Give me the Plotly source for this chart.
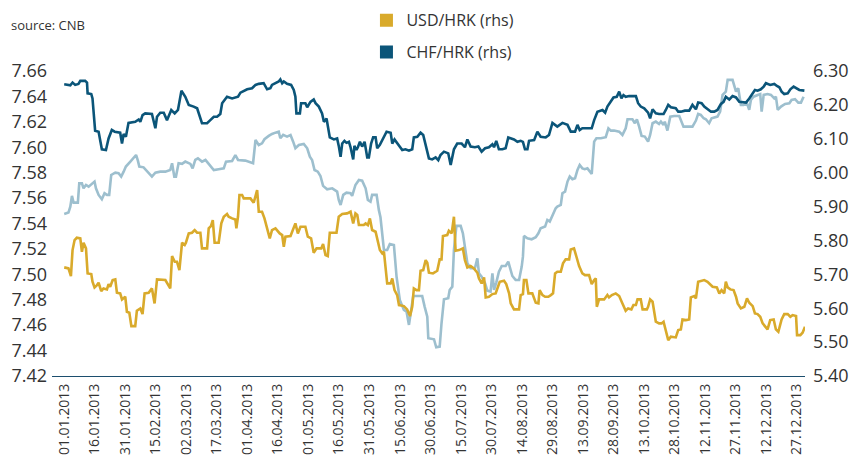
import pandas as pd
import plotly.graph_objects as go

# ---------------- data (day of year 2013, 0 = 01.01.2013) ----------------
eur_day = [0, 2.1, 3.0, 3.8, 4.6, 6.7, 7.4, 8.7, 9.5, 10.7, 12.0, 13.6, 14.9, 15.6, 16.9, 18.5, 19.8, 21.0, 22.1, 23.1,
           25.1, 26.7, 28.0, 29.2, 30.3, 32.5, 34.1, 35.3, 36.2, 36.9, 39.0, 40.7, 43.1, 44.8, 47.2, 49.7, 52.1, 53.0,
           54.1, 54.9, 56.2, 57.9, 59.5, 62.0, 63.1, 64.4, 65.7, 67.7, 69.4, 71.0, 73.5, 75.9, 78.4, 79.5, 82.5, 84.1,
           85.4, 89.0, 92.8, 94.0, 95.6, 97.2, 98.4, 100.5, 102.1, 103.8, 105.4, 106.2, 107.6, 109.5, 111.2, 112.5,
           113.6, 115.3, 117.7, 119.4, 120.7, 121.8, 123.0, 124.6, 125.9, 127.2, 129.2, 131.7, 134.1, 134.9, 135.8,
           137.1, 138.7, 140.7, 141.5, 143.1, 144.8, 146.4, 148.1, 149.2, 150.5, 151.3, 153.5, 154.6, 155.4, 157.1,
           158.7, 160.0, 162.0, 163.3, 164.9, 166.9, 168.2, 169.4, 170.2, 171.5, 173.5, 175.9, 177.1, 178.4, 178.9,
           181.7, 182.8, 184.5, 185.4, 186.6, 188.7, 189.4, 190.7, 191.5, 192.7, 194.8, 195.9, 196.9, 198.1, 199.7,
           201.8, 203.0, 203.8, 205.1, 206.8, 207.9, 209.5, 210.4, 211.2, 212.3, 213.6, 215.0, 216.9, 218.2, 218.9,
           220.2, 221.8, 223.5, 224.8, 225.4, 225.9, 227.6, 229.7, 231.7, 233.0, 234.1, 236.3, 237.4, 238.6, 239.9,
           241.5, 242.3, 244.0, 244.8, 246.1, 247.3, 248.4, 249.7, 251.0, 252.2, 253.3, 254.6, 255.8, 257.1, 259.2,
           260.4, 261.5, 263.7, 266.1, 267.4, 268.6, 270.2, 272.7, 274.3, 275.9, 276.8, 279.2, 280.4, 281.4, 282.5,
           283.7, 285.3, 286.9, 287.9, 289.1, 290.7, 292.3, 293.2, 294.5, 295.1, 296.4, 297.8, 299.7, 302.2, 303.3,
           304.3, 306.3, 308.7, 310.4, 311.5, 312.8, 314.2, 315.3, 316.9, 318.1, 319.4, 321.0, 322.3, 323.5, 325.1,
           326.0, 328.4, 329.2, 330.1, 331.2, 331.7, 332.5, 333.8, 335.5, 336.6, 337.4, 338.7, 340.4, 342.0, 342.7,
           343.7, 345.6, 347.3, 348.9, 349.7, 350.6, 352.2, 354.2, 356.3, 357.4, 359.1, 360.7, 362.0, 363.3]
eur_val = [7.5475, 7.5486, 7.5533, 7.5617, 7.5564, 7.5564, 7.5716, 7.5716, 7.5677, 7.5703, 7.5690, 7.5716, 7.5730,
           7.5677, 7.5625, 7.5591, 7.5638, 7.5625, 7.5625, 7.5782, 7.5800, 7.5795, 7.5769, 7.5808, 7.5848, 7.5887,
           7.5913, 7.5939, 7.5895, 7.5848, 7.5842, 7.5808, 7.5769, 7.5800, 7.5808, 7.5808, 7.5821, 7.5874, 7.5769,
           7.5769, 7.5874, 7.5869, 7.5887, 7.5869, 7.5834, 7.5900, 7.5913, 7.5887, 7.5900, 7.5869, 7.5821, 7.5827,
           7.5834, 7.5887, 7.5892, 7.5939, 7.5900, 7.5895, 7.5874, 7.6057, 7.6018, 7.6031, 7.6063, 7.6089, 7.6105,
           7.6115, 7.6123, 7.6071, 7.6097, 7.6084, 7.6097, 7.6044, 7.5992, 7.6018, 7.6026, 7.5992, 7.5926, 7.5900,
           7.5821, 7.5808, 7.5774, 7.5696, 7.5669, 7.5677, 7.5651, 7.5585, 7.5546, 7.5625, 7.5643, 7.5638, 7.5617,
           7.5703, 7.5743, 7.5737, 7.5677, 7.5585, 7.5572, 7.5625, 7.5625, 7.5507, 7.5449, 7.5192, 7.5192, 7.5239,
           7.5231, 7.4982, 7.4798, 7.4720, 7.4707, 7.4602, 7.4694, 7.4830, 7.4830, 7.4830, 7.4746, 7.4667, 7.4497,
           7.4489, 7.4426, 7.4431, 7.4615, 7.4804, 7.4812, 7.4877, 7.4903, 7.5192, 7.5381, 7.5381, 7.5323, 7.5205,
           7.5087, 7.5048, 7.5048, 7.5126, 7.5008, 7.4982, 7.4930, 7.4872, 7.4864, 7.5008, 7.4877, 7.4935, 7.5021,
           7.5066, 7.5066, 7.5100, 7.5056, 7.4987, 7.4956, 7.4956, 7.5061, 7.5139, 7.5302, 7.5284, 7.5276, 7.5292,
           7.5323, 7.5362, 7.5376, 7.5428, 7.5415, 7.5467, 7.5520, 7.5533, 7.5546, 7.5638, 7.5651, 7.5730, 7.5769,
           7.5748, 7.5756, 7.5821, 7.5861, 7.5834, 7.5827, 7.5834, 7.5790, 7.6044, 7.6071, 7.6071, 7.6079, 7.6149,
           7.6131, 7.6131, 7.6123, 7.6097, 7.6149, 7.6220, 7.6220, 7.6189, 7.6220, 7.6162, 7.6089, 7.6084, 7.6044,
           7.6097, 7.6189, 7.6202, 7.6183, 7.6202, 7.6176, 7.6202, 7.6131, 7.6241, 7.6246, 7.6246, 7.6202, 7.6162,
           7.6162, 7.6162, 7.6210, 7.6262, 7.6254, 7.6228, 7.6220, 7.6189, 7.6228, 7.6236, 7.6241, 7.6280, 7.6412,
           7.6438, 7.6530, 7.6530, 7.6482, 7.6438, 7.6464, 7.6398, 7.6333, 7.6333, 7.6346, 7.6294, 7.6372, 7.6398,
           7.6412, 7.6419, 7.6280, 7.6412, 7.6419, 7.6412, 7.6385, 7.6398, 7.6294, 7.6320, 7.6341, 7.6346, 7.6372,
           7.6378, 7.6351, 7.6351, 7.6398]

usd_day = [0, 2.1, 3.3, 4.1, 5.1, 6.2, 7.9, 8.7, 9.5, 10.7, 11.5, 13.3, 13.9, 14.9, 16.1, 16.9, 18.2, 19.3, 21.0, 21.8,
           22.6, 23.8, 25.1, 25.9, 27.5, 28.4, 30.0, 30.8, 32.0, 33.0, 34.9, 35.7, 37.4, 38.5, 39.5, 41.5, 43.1, 44.4,
           45.6, 48.0, 49.7, 52.1, 53.0, 54.3, 55.4, 56.6, 57.9, 59.2, 59.8, 61.2, 62.8, 64.1, 65.3, 66.9, 67.7, 70.2,
           71.0, 72.1, 73.0, 73.9, 75.9, 77.2, 78.4, 80.0, 80.8, 82.5, 84.1, 84.6, 85.4, 86.1, 87.4, 88.2, 91.5, 93.1,
           94.8, 95.6, 97.2, 98.4, 99.7, 101.0, 102.1, 103.8, 105.9, 107.1, 107.9, 108.7, 111.2, 112.5, 113.6, 114.8,
           116.1, 118.5, 119.7, 121.3, 122.6, 124.0, 126.3, 127.2, 128.4, 129.5, 130.5, 132.5, 133.8, 134.9, 136.6,
           139.0, 140.7, 142.0, 143.1, 144.0, 144.8, 147.2, 148.1, 149.2, 150.2, 151.3, 153.0, 155.1, 156.3, 157.1,
           158.7, 160.4, 161.2, 162.3, 163.6, 164.5, 166.9, 168.5, 169.9, 171.0, 171.8, 173.1, 174.3, 175.1, 176.4,
           177.6, 178.4, 179.2, 181.2, 183.3, 184.5, 185.4, 186.1, 188.2, 189.0, 190.4, 191.5, 192.3, 194.0, 195.9,
           196.9, 198.1, 199.7, 201.3, 203.0, 203.8, 205.1, 206.3, 207.1, 208.7, 210.4, 212.0, 212.8, 214.0, 216.1,
           217.2, 218.6, 219.4, 221.0, 223.5, 224.3, 225.4, 225.9, 227.1, 228.1, 230.0, 231.7, 233.0, 233.6, 235.0,
           236.3, 237.9, 239.1, 240.2, 241.2, 242.3, 244.0, 245.1, 246.4, 248.1, 248.9, 250.5, 251.7, 253.0, 254.6,
           255.9, 257.9, 259.2, 260.4, 261.2, 261.7, 262.8, 265.3, 266.9, 267.7, 269.1, 271.0, 272.7, 274.3, 275.9,
           277.1, 278.7, 279.7, 280.9, 281.7, 283.3, 284.2, 286.3, 286.9, 287.9, 289.1, 289.9, 290.7, 292.3, 293.5,
           294.5, 295.6, 296.8, 298.1, 300.5, 301.7, 303.0, 303.8, 305.5, 307.1, 307.9, 309.6, 310.4, 311.5, 312.8,
           314.5, 316.1, 317.4, 318.6, 320.7, 321.9, 323.0, 324.3, 325.1, 326.0, 327.3, 328.9, 330.1, 330.9, 332.5,
           334.2, 335.5, 336.6, 338.3, 339.4, 340.7, 342.0, 343.2, 344.8, 345.6, 346.9, 348.6, 349.7, 350.9, 352.5,
           353.8, 355.5, 356.8, 357.9, 359.6, 360.1, 361.7, 362.8, 364.0]
usd_val = [5.7205, 5.7175, 5.6949, 5.7716, 5.8011, 5.8080, 5.8061, 5.7667, 5.7933, 5.7765, 5.7027, 5.7008, 5.6781,
           5.6614, 5.6683, 5.6752, 5.6506, 5.6585, 5.6555, 5.6713, 5.6634, 5.6831, 5.6850, 5.6457, 5.6437, 5.6260,
           5.6339, 5.5896, 5.5866, 5.5473, 5.5473, 5.5925, 5.5994, 5.5827, 5.6437, 5.6457, 5.6585, 5.6142, 5.6850,
           5.6850, 5.6831, 5.6585, 5.7539, 5.7372, 5.7372, 5.7126, 5.7933, 5.7864, 5.7933, 5.8208, 5.8228, 5.8307,
           5.8228, 5.8228, 5.7765, 5.7765, 5.8356, 5.8425, 5.8602, 5.7933, 5.7933, 5.8503, 5.8700, 5.8779, 5.8700,
           5.8651, 5.8621, 5.8356, 5.8700, 5.9340, 5.9340, 5.9241, 5.9241, 5.9113, 5.9487, 5.8848, 5.8848, 5.8651,
           5.8356, 5.8061, 5.8307, 5.8356, 5.8208, 5.8159, 5.7815, 5.8110, 5.8130, 5.8307, 5.8503, 5.8208, 5.8405,
           5.8405, 5.8110, 5.8061, 5.7637, 5.7765, 5.7765, 5.7893, 5.7569, 5.7539, 5.8228, 5.8228, 5.8228, 5.8700,
           5.8779, 5.8799, 5.8848, 5.8503, 5.8799, 5.8750, 5.8454, 5.8454, 5.8503, 5.8454, 5.8651, 5.8307, 5.8257,
           5.7716, 5.7618, 5.7667, 5.6732, 5.6732, 5.6880, 5.6535, 5.6388, 5.6093, 5.6063, 5.5965, 5.5768, 5.6043,
           5.6585, 5.6535, 5.6535, 5.7106, 5.7126, 5.7421, 5.7342, 5.7047, 5.7027, 5.7106, 5.7441, 5.7441, 5.8130,
           5.8159, 5.8287, 5.8208, 5.8700, 5.7697, 5.7716, 5.7765, 5.7421, 5.7204, 5.7244, 5.7175, 5.7047, 5.6880,
           5.6732, 5.6909, 5.6319, 5.6339, 5.6417, 5.6437, 5.6585, 5.6781, 5.6811, 5.6713, 5.6437, 5.6142, 5.5965,
           5.5965, 5.6388, 5.6417, 5.6831, 5.6831, 5.6437, 5.6437, 5.6162, 5.6142, 5.6535, 5.6388, 5.6339, 5.6339,
           5.6388, 5.6437, 5.7027, 5.7077, 5.7077, 5.7323, 5.7441, 5.7441, 5.7736, 5.7765, 5.7519, 5.7244, 5.7027,
           5.6978, 5.6978, 5.6713, 5.6831, 5.6880, 5.6043, 5.6260, 5.6260, 5.6388, 5.6319, 5.6388, 5.6437, 5.6358,
           5.6142, 5.5925, 5.5994, 5.5965, 5.6093, 5.6093, 5.6260, 5.6260, 5.5965, 5.5965, 5.6043, 5.6260, 5.6191,
           5.5925, 5.5601, 5.5552, 5.5552, 5.5601, 5.5305, 5.5059, 5.5158, 5.5138, 5.5355, 5.5374, 5.5670, 5.5650,
           5.5670, 5.6319, 5.6358, 5.6290, 5.6781, 5.6811, 5.6831, 5.6781, 5.6713, 5.6634, 5.6614, 5.6437, 5.6535,
           5.6437, 5.6781, 5.6614, 5.6555, 5.6535, 5.6339, 5.6142, 5.5994, 5.6043, 5.6290, 5.6162, 5.6063, 5.5847,
           5.5827, 5.5748, 5.5552, 5.5453, 5.5374, 5.5650, 5.5670, 5.5374, 5.5305, 5.5670, 5.5827, 5.5827, 5.5748,
           5.5797, 5.5768, 5.5207, 5.5207, 5.5276, 5.5453]

chf_day = [0, 3.0, 4.1, 5.4, 7.0, 7.9, 10.3, 11.2, 11.5, 13.3, 13.9, 15.2, 16.9, 18.5, 20.5, 21.8, 23.4, 24.8, 27.5,
           28.4, 29.2, 30.3, 31.6, 34.9, 36.6, 37.4, 38.5, 39.8, 43.1, 44.8, 45.6, 47.2, 48.9, 50.5, 52.6, 54.3, 55.9,
           57.6, 59.5, 61.2, 63.6, 65.3, 67.7, 70.2, 71.8, 73.5, 75.1, 76.7, 77.6, 80.0, 82.5, 85.4, 86.6, 88.2, 89.9,
           92.3, 94.0, 95.6, 98.0, 99.7, 101.3, 102.1, 103.8, 105.4, 106.2, 107.1, 107.9, 109.5, 111.5, 112.8, 113.6,
           114.1, 115.8, 116.4, 118.5, 119.4, 121.0, 122.6, 123.5, 125.1, 126.7, 127.6, 128.9, 129.5, 130.5, 132.5,
           134.1, 134.9, 135.8, 136.6, 137.7, 138.7, 139.9, 140.7, 142.0, 142.6, 143.6, 144.3, 145.3, 146.4, 147.6,
           148.9, 149.7, 150.8, 151.8, 153.0, 153.8, 155.1, 156.3, 157.1, 158.4, 160.4, 161.2, 162.3, 163.6, 164.9,
           166.1, 167.7, 169.4, 171.0, 171.8, 173.5, 175.1, 176.4, 178.4, 179.2, 180.8, 182.5, 183.8, 184.9, 186.6,
           188.7, 189.9, 191.5, 193.1, 195.3, 196.9, 198.1, 199.7, 201.8, 203.5, 205.1, 206.8, 208.7, 210.4, 211.2,
           212.3, 213.6, 215.3, 216.9, 218.2, 219.9, 221.0, 222.7, 224.3, 225.4, 226.4, 227.6, 228.4, 230.9, 232.5,
           234.1, 236.6, 238.2, 239.9, 242.3, 244.8, 247.3, 248.9, 251.0, 252.2, 253.3, 254.6, 257.1, 259.2, 260.4,
           262.0, 264.5, 265.8, 266.9, 268.6, 269.9, 271.5, 272.7, 273.8, 274.8, 275.9, 277.6, 280.9, 282.0, 283.3,
           285.0, 286.9, 287.9, 289.1, 290.7, 292.3, 294.5, 295.6, 296.8, 298.1, 300.5, 301.7, 303.0, 305.0, 307.1,
           308.7, 310.4, 311.5, 313.2, 314.5, 316.1, 317.8, 319.4, 321.0, 322.7, 324.0, 325.1, 326.8, 328.4, 330.1,
           331.7, 333.3, 335.0, 336.6, 338.3, 339.4, 340.7, 342.3, 343.7, 344.8, 346.9, 348.9, 350.2, 351.4, 352.5,
           353.8, 355.5, 356.8, 358.4, 360.1, 361.2, 363.7]
chf_val = [6.261, 6.258, 6.266, 6.259, 6.262, 6.271, 6.271, 6.266, 6.234, 6.232, 6.219, 6.124, 6.121, 6.069, 6.067,
           6.101, 6.126, 6.121, 6.118, 6.086, 6.114, 6.106, 6.147, 6.150, 6.157, 6.150, 6.170, 6.175, 6.173, 6.131,
           6.165, 6.177, 6.177, 6.155, 6.185, 6.175, 6.185, 6.242, 6.224, 6.200, 6.195, 6.190, 6.146, 6.146, 6.155,
           6.165, 6.165, 6.173, 6.205, 6.224, 6.219, 6.224, 6.236, 6.242, 6.246, 6.249, 6.259, 6.262, 6.264, 6.246,
           6.249, 6.259, 6.264, 6.269, 6.275, 6.264, 6.269, 6.262, 6.259, 6.244, 6.224, 6.175, 6.175, 6.205, 6.205,
           6.193, 6.209, 6.216, 6.205, 6.195, 6.175, 6.150, 6.160, 6.141, 6.104, 6.098, 6.101, 6.079, 6.047, 6.086,
           6.094, 6.088, 6.091, 6.075, 6.039, 6.079, 6.067, 6.075, 6.091, 6.077, 6.091, 6.045, 6.045, 6.086, 6.104,
           6.104, 6.072, 6.082, 6.096, 6.106, 6.121, 6.118, 6.086, 6.098, 6.086, 6.075, 6.067, 6.069, 6.065, 6.069,
           6.104, 6.106, 6.118, 6.111, 6.067, 6.042, 6.039, 6.045, 6.037, 6.052, 6.062, 6.057, 6.023, 6.069, 6.086,
           6.086, 6.075, 6.098, 6.077, 6.075, 6.077, 6.062, 6.072, 6.075, 6.084, 6.075, 6.094, 6.069, 6.069, 6.072,
           6.104, 6.101, 6.098, 6.091, 6.094, 6.091, 6.069, 6.069, 6.094, 6.096, 6.121, 6.106, 6.104, 6.111, 6.147,
           6.136, 6.147, 6.141, 6.121, 6.121, 6.141, 6.126, 6.131, 6.131, 6.131, 6.155, 6.180, 6.185, 6.177, 6.195,
           6.209, 6.222, 6.224, 6.239, 6.219, 6.229, 6.224, 6.226, 6.226, 6.205, 6.195, 6.190, 6.177, 6.160, 6.187,
           6.175, 6.173, 6.173, 6.185, 6.200, 6.193, 6.190, 6.180, 6.180, 6.183, 6.183, 6.200, 6.187, 6.207, 6.205,
           6.195, 6.187, 6.180, 6.180, 6.185, 6.203, 6.209, 6.224, 6.216, 6.226, 6.222, 6.209, 6.207, 6.207, 6.219,
           6.234, 6.244, 6.242, 6.246, 6.254, 6.264, 6.259, 6.262, 6.256, 6.252, 6.239, 6.232, 6.234, 6.246, 6.254,
           6.249, 6.244, 6.242]

legend_labels = ["USD/HRK (rhs)", "CHF/HRK (rhs)"]
source_text = "source: CNB"

# ---------------- styling ----------------
C_EUR = "#9DBFCE"
C_USD = "#D9AA2B"
C_CHF = "#0B5579"
AXIS_C = "#1C4E6E"
TXT = "#333333"
FONT = "Open Sans"

base = pd.Timestamp("2013-01-01")


def to_dates(days):
    return base + pd.to_timedelta(days, unit="D")


fig = go.Figure()
fig.add_trace(go.Scatter(x=to_dates(eur_day), y=eur_val, mode="lines", yaxis="y",
                         line=dict(color=C_EUR, width=2.6), showlegend=False, name="EUR/HRK"))
fig.add_trace(go.Scatter(x=to_dates(usd_day), y=usd_val, mode="lines", yaxis="y2",
                         line=dict(color=C_USD, width=2.6), showlegend=False, name=legend_labels[0]))
fig.add_trace(go.Scatter(x=to_dates(chf_day), y=chf_val, mode="lines", yaxis="y2",
                         line=dict(color=C_CHF, width=2.6), showlegend=False, name=legend_labels[1]))
# legend entries with square symbols
for lbl, col, grp in [(legend_labels[0], C_USD, "a"), (legend_labels[1], C_CHF, "b")]:
    fig.add_trace(go.Scatter(x=[None], y=[None], mode="markers", yaxis="y2", name=lbl, legendgroup=grp,
                             marker=dict(symbol="square", size=13, color=col), showlegend=True))

# the page adds an 8px body margin, so the figure is 8px smaller than the window
fig.update_layout(
    width=860, height=458,
    margin=dict(l=44, r=63, t=63, b=90, autoexpand=False),
    paper_bgcolor="white", plot_bgcolor="white",
    font=dict(family=FONT, color=TXT, size=16),
    showlegend=True,
    legend=dict(x=0.4176, y=1.222, xanchor="left", yanchor="top", orientation="v",
                traceorder="grouped", tracegroupgap=8, bgcolor="rgba(0,0,0,0)",
                font=dict(family=FONT, size=16, color=TXT)),
    xaxis=dict(type="date", range=[base - pd.Timedelta(days=6), base + pd.Timedelta(days=364)],
               tick0="2013-01-01", dtick=15 * 86400000, tickformat="%d.%m.%Y", tickangle=-90,
               tickfont=dict(size=14, color=TXT, family=FONT), showgrid=False, zeroline=False,
               showline=True, linecolor=AXIS_C, linewidth=1.2, ticks="", ticklabelstandoff=1),
    yaxis=dict(range=[7.42, 7.66], dtick=0.02, tick0=7.42, tickformat=".2f", showgrid=False, zeroline=False,
               showline=False, ticks="", tickfont=dict(size=18, color=TXT, family=FONT), ticklabelstandoff=4),
    yaxis2=dict(range=[5.40, 6.30], dtick=0.1, tick0=5.4, tickformat=".2f", overlaying="y", side="right",
                showgrid=False, zeroline=False, showline=False, ticks="",
                tickfont=dict(size=18, color=TXT, family=FONT), ticklabelstandoff=7),
    annotations=[dict(text=source_text, xref="paper", yref="paper", x=-0.057, y=1.151, xanchor="left",
                      yanchor="middle", showarrow=False, font=dict(size=13, color=TXT, family=FONT))],
)

fig.write_html("out.html")
